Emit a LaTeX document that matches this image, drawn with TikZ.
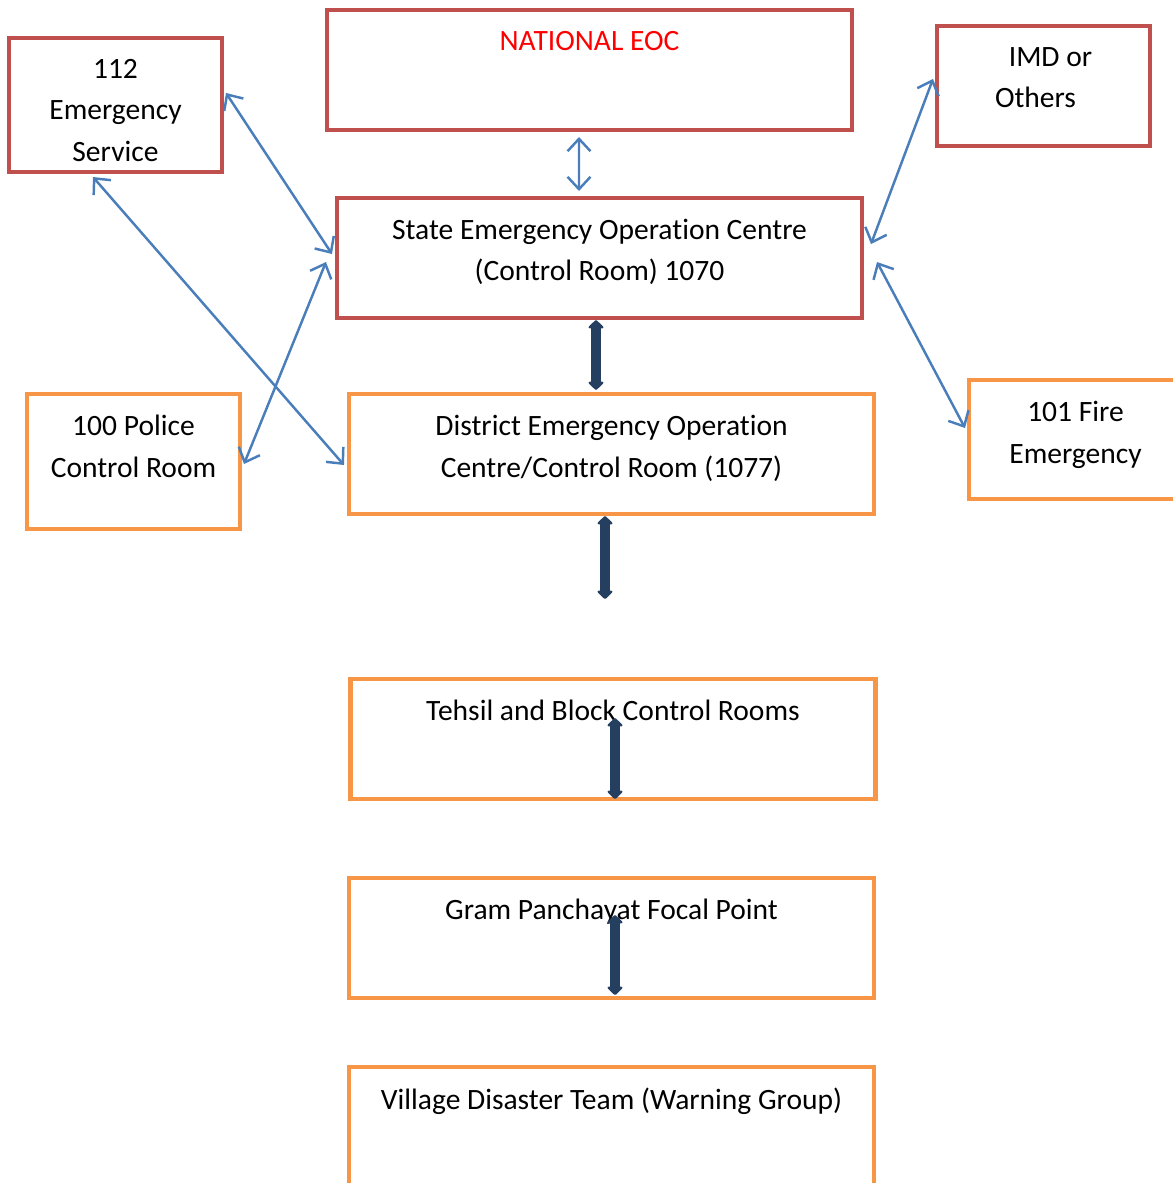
\documentclass[tikz,border=0pt]{standalone}
\usepackage{fontspec}
\setmainfont[Ligatures=NoCommon]{Carlito}
\usepackage{tikz}
\usetikzlibrary{calc,arrows.meta,positioning}

\definecolor{boxred}{HTML}{C0504D}
\definecolor{boxorange}{HTML}{F79646}
\definecolor{linkblue}{HTML}{4A7EBB}
\definecolor{linkdark}{HTML}{243F60}

\begin{document}
\begin{tikzpicture}[
    box/.style={line width=2.3pt, inner sep=0pt},
    redbox/.style={box, draw=boxred},
    orangebox/.style={box, draw=boxorange},
    widebox/.style={minimum width=10.5cm, minimum height=2.4cm},
    smallbox/.style={minimum width=4.26cm},
    txt/.style={anchor=north, align=center, inner sep=0pt, font=\fontsize{16.8}{23.6}\selectfont,
        execute at begin node=\strut},
    bluelink/.style={draw=linkblue, line width=1.4pt,
        {Straight Barb[length=7pt,width=13pt]}-{Straight Barb[length=7pt,width=13pt]}},
    darklink/.style={draw=linkdark, line width=5.8pt,
        {Triangle[width=10pt,length=5pt,round]}-{Triangle[width=10pt,length=5pt,round]}}
]
            \useasboundingbox (0, 0) rectangle (23.46, -23.66);

            % top row
            \node (nat) at (11.79, -1.4) [redbox, widebox] {};
            \node (nattxt) at ([yshift=-0.26cm]nat.north) [txt, text=red] {NATIONAL EOC};
            \node (emg) at (2.31, -2.1) [redbox, smallbox, minimum height=2.68cm] {};
            \node (emgtxt) at ([yshift=-0.46cm]emg.north) [txt] {112\\Emergency\\Service};
            \node (imd) at (20.87, -1.72) [redbox, smallbox, minimum height=2.4cm] {};
            \node (imdtxt) at ([xshift=-0.16cm, yshift=-0.46cm]imd.north) [txt] {\hspace*{0.6cm}IMD or\\Others};

            % state and district level
            \node (sta) at (11.99, -5.16) [redbox, widebox] {};
            \node (statxt) at ([yshift=-0.45cm]sta.north) [txt] {State Emergency Operation Centre\\(Control Room) 1070};
            \node (pol) at (2.67, -9.23) [orangebox, smallbox, minimum height=2.7cm] {};
            \node (poltxt) at ([yshift=-0.46cm]pol.north) [txt] {100 Police\\Control Room};
            \node (dis) at (12.23, -9.08) [orangebox, widebox] {};
            \node (distxt) at ([yshift=-0.46cm]dis.north) [txt] {District Emergency Operation\\Centre/Control Room (1077)};
            \node (fir) at (21.51, -8.79) [orangebox, smallbox, minimum height=2.38cm] {};
            \node (firtxt) at ([yshift=-0.46cm]fir.north) [txt] {101 Fire\\Emergency};

            % lower levels
            \node (teh) at (12.26, -14.78) [orangebox, widebox] {};
            \node (tehtxt) at ([yshift=-0.28cm]teh.north) [txt] {Tehsil and Block Control Rooms};
            \node (gra) at (12.23, -18.76) [orangebox, widebox] {};
            \node (gratxt) at ([yshift=-0.28cm]gra.north) [txt] {Gram Panchayat Focal Point};
            \node (vil) at (12.23, -22.54) [orangebox, widebox] {};
            \node (viltxt) at ([yshift=-0.3cm]vil.north) [txt] {Village Disaster Team (Warning Group)};

            % blue links
            \draw [bluelink] ([xshift=-0.21cm, yshift=-0.1cm]nat.south) -- ([xshift=-0.41cm, yshift=0.1cm]sta.north);
            \draw [bluelink] ([xshift=0.04cm, yshift=0.24cm]emg.east) -- ([xshift=-0.06cm, yshift=0.08cm]sta.west);
            \draw [bluelink] ([xshift=-0.45cm, yshift=-0.06cm]emg.south) -- ([xshift=-0.06cm, yshift=-0.22cm]dis.west);
            \draw [bluelink] ([xshift=0.04cm, yshift=-0.05cm]pol.east) -- ([xshift=-0.18cm, yshift=-0.08cm]sta.west);
            \draw [bluelink] ([xshift=-0.04cm, yshift=0.14cm]imd.west) -- ([xshift=0.14cm, yshift=0.28cm]sta.east);
            \draw [bluelink] ([xshift=-0.04cm, yshift=0.23cm]fir.west) -- ([xshift=0.26cm, yshift=-0.08cm]sta.east);

            % dark links
            \coordinate (disend) at ([xshift=-0.13cm, yshift=-1.66cm]dis.south);
            \draw [darklink] ([xshift=-0.07cm]sta.south) -- ([xshift=-0.31cm, yshift=0.04cm]dis.north);
            \draw [darklink] ([xshift=-0.13cm]dis.south) -- (disend);
            \draw [darklink] ([xshift=0.04cm, yshift=1.66cm]teh.south) -- ([xshift=0.04cm, yshift=0.04cm]teh.south);
            \draw [darklink] ([xshift=0.07cm, yshift=1.7cm]gra.south) -- ([xshift=0.07cm, yshift=0.1cm]gra.south);
\end{tikzpicture}
\end{document}
